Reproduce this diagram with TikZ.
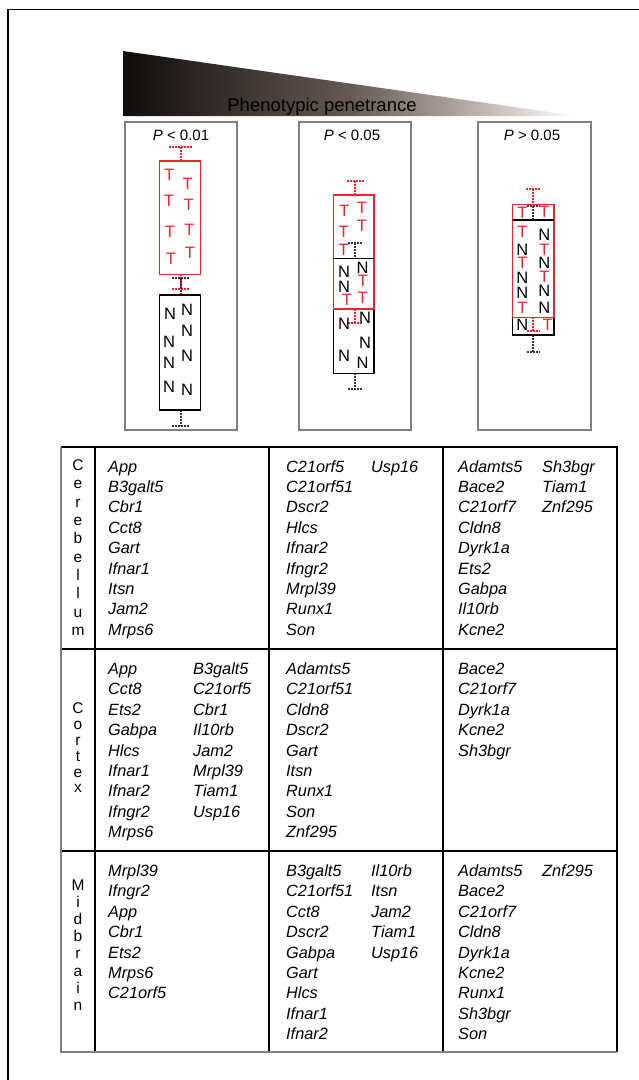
\documentclass[tikz,border=0pt]{standalone}
\usepackage{fontspec}
\setmainfont{Liberation Sans}
\definecolor{tred}{RGB}{232,38,48}
\definecolor{pgray}{RGB}{128,128,128}
\pgfdeclarehorizontalshading{wedgeshade}{100bp}{rgb(0bp)=(0.06,0.05,0.05); rgb(25bp)=(0.06,0.05,0.05); rgb(50bp)=(0.40,0.35,0.33); rgb(62.5bp)=(0.70,0.66,0.64); rgb(75bp)=(1,1,1); rgb(100bp)=(1,1,1)}
\tikzset{
  gene/.style={anchor=base west, inner sep=0pt, font=\fontsize{16.3}{19}\selectfont\itshape},
  lett/.style={inner sep=0pt, font=\fontsize{16.5}{19}\selectfont},
  tl/.style={lett, text=tred},
  nl/.style={lett, text=black},
  plab/.style={anchor=base, inner sep=0pt, font=\fontsize{15}{17}\selectfont},
  vlab/.style={inner sep=0pt, align=center},
  panel/.style={draw=pgray, line width=1.2pt},
  rbox/.style={draw=tred, line width=1.1pt},
  kbox/.style={draw=black, line width=1.2pt},
  rwhisk/.style={draw=tred, line width=2pt, dash pattern=on 1.5pt off 1.5pt},
  kwhisk/.style={draw=black!80, line width=2pt, dash pattern=on 1.5pt off 1.5pt},
  tline/.style={draw=black, line width=1.1pt},
  tgline/.style={draw=pgray, line width=2pt},
}
\newcommand\genecol[4]{%
  \foreach \g [count=\i from 0] in {#4} \node[gene] (#1-\i) at (#2,{#3+20.4*\i}) {\g};}
\begin{document}
\begin{tikzpicture}[x=1pt, y=-1pt]
\useasboundingbox (0,0) rectangle (639,1080);
% outer frame corner
\draw[line width=1.3pt] (8,1080) -- (8,9.7) -- (639,9.7);

% wedge
\shade[shading=wedgeshade] (123,51) -- (577,116) -- (123,116) -- cycle;
\node[anchor=base, inner sep=0pt, font=\fontsize{18.5}{20}\selectfont] (title) at (322,111) {Phenotypic penetrance};

% panels
\draw[panel] (125,122) rectangle (237,430);
\draw[panel] (299,122) rectangle (411,430);
\draw[panel] (478,122) rectangle (591,430);
\node[plab] (p1) at (181,140.5) {\textit{P} < 0.01};
\node[plab] (p2) at (352,140.5) {\textit{P} < 0.05};
\node[plab] (p3) at (532,140.5) {\textit{P} > 0.05};

% ---- panel 1
\draw[rwhisk] (169,147) -- (192,147);
\draw[rwhisk] (180.7,147) -- (180.7,161);
\draw[rwhisk] (180.7,274) -- (180.7,289);
\draw[rwhisk] (172,289) -- (190,289);
\draw[kwhisk] (172,278) -- (190,278);
\draw[kwhisk] (180.7,278) -- (180.7,295);
\draw[kwhisk] (180.7,410) -- (180.7,426);
\draw[kwhisk] (172,426) -- (190,426);
\draw[rbox] (159.3,161) rectangle (200.7,274.3);
\draw[kbox] (159.3,295) rectangle (200.7,410);
\node[tl] (a1) at (169.3,175) {T};
\node[tl] (a2) at (187.7,184.3) {T};
\node[tl] (a3) at (169,201) {T};
\node[tl] (a4) at (188.7,205) {T};
\node[tl] (a5) at (170,232.3) {T};
\node[tl] (a6) at (189.3,230) {T};
\node[tl] (a7) at (171,259.3) {T};
\node[tl] (a8) at (190,252.7) {T};
\node[nl] (b1) at (170,314.3) {N};
\node[nl] (b2) at (187,310) {N};
\node[nl] (b3) at (169,341.7) {N};
\node[nl] (b4) at (187,331) {N};
\node[nl] (b5) at (169,363.3) {N};
\node[nl] (b6) at (187,355.7) {N};
\node[nl] (b7) at (169,386.7) {N};
\node[nl] (b8) at (187,390) {N};

% ---- panel 2
\draw[rwhisk] (347,181) -- (364,181);
\draw[rwhisk] (355,181) -- (355,195);
\draw[kwhisk] (348,243.3) -- (363,243.3);
\draw[kwhisk] (355,243.3) -- (355,258.3);
\draw[rwhisk] (355,309) -- (355,323.3);
\draw[rwhisk] (348,323.3) -- (362,323.3);
\draw[kwhisk] (355,373.3) -- (355,389);
\draw[kwhisk] (348,389) -- (362,389);
\draw[kbox] (333.3,258.3) rectangle (374,373.3);
\draw[rbox] (333.3,195) rectangle (374,309);
\draw[kbox] (333.3,258.3) -- (374,258.3);
\node[tl] (c1) at (344.3,211) {T};
\node[tl] (c2) at (362,207.7) {T};
\node[tl] (c3) at (343.7,231.7) {T};
\node[tl] (c4) at (362,226) {T};
\node[tl] (c5) at (343.7,250) {T};
\node[nl] (c6) at (344,271.7) {N};
\node[nl] (c7) at (362.7,267.7) {N};
\node[nl] (c8) at (344,286.7) {N};
\node[tl] (c9) at (363,281) {T};
\node[tl] (c10) at (347,300) {T};
\node[tl] (c11) at (362.7,298.3) {T};
\node[nl] (c12) at (344,324.3) {N};
\node[nl] (c13) at (365,317.7) {N};
\node[nl] (c14) at (365,343.3) {N};
\node[nl] (c15) at (344,355.7) {N};
\node[nl] (c16) at (362.7,363.3) {N};

% ---- panel 3
\draw[rwhisk] (526,189) -- (541,189);
\draw[rwhisk] (533.3,189) -- (533.3,204.3);
\draw[kwhisk] (527,206) -- (540,206);
\draw[kwhisk] (533.3,206) -- (533.3,220);
\draw[rwhisk] (533.3,317.3) -- (533.3,331);
\draw[rwhisk] (527,331) -- (540,331);
\draw[kwhisk] (533.3,335) -- (533.3,352);
\draw[kwhisk] (527,352) -- (540,352);
\draw[kbox] (512.7,220) rectangle (554,335);
\draw[rbox] (512.7,204.3) rectangle (554,317.3);
\draw[kbox] (512.7,220) -- (554,220);
\node[tl] (d1) at (522.3,213.3) {T};
\node[tl] (d2) at (544.3,212.3) {T};
\node[tl] (d3) at (522.3,231.7) {T};
\node[tl] (d4) at (522.3,263.3) {T};
\node[tl] (d5) at (522.3,307.7) {T};
\node[nl] (d6) at (522.3,250) {N};
\node[nl] (d7) at (522.3,278.3) {N};
\node[nl] (d8) at (522.3,293.3) {N};
\node[nl] (e1) at (544.3,235) {N};
\node[tl] (e2) at (544.3,250) {T};
\node[nl] (e3) at (544.3,263.3) {N};
\node[tl] (e4) at (544.3,276.7) {T};
\node[nl] (e5) at (544.3,291) {N};
\node[nl] (e6) at (544.3,307.7) {N};
\node[nl] (f1) at (522.3,325) {N};
\node[tl] (f2) at (547.7,325) {T};

% ---- table lines
\draw[tline] (61,447) -- (617,447) -- (617,1052);
\foreach \xx in {95,269,443} \draw[tline] (\xx,447) -- (\xx,1052);
\foreach \yy in {649,851} \draw[tline] (61,\yy) -- (617,\yy);
\draw[tgline] (61,447) -- (61,1052) -- (617,1052);

% vertical region labels
\node[vlab, font=\fontsize{15.5}{18.36}\selectfont] (cer) at (78,547.6) {C\\e\\r\\e\\b\\e\\l\\l\\u\\m};
\node[vlab, font=\fontsize{15.5}{15.8}\selectfont] (cor) at (78,748) {C\\o\\r\\t\\e\\x};
\node[vlab, font=\fontsize{15.5}{17.2}\selectfont] (mid) at (78,945) {M\\i\\d\\b\\r\\a\\i\\n};

% gene lists: Cerebellum
\genecol{ca}{108}{472}{App,B3galt5,Cbr1,Cct8,Gart,Ifnar1,Itsn,Jam2,Mrps6}
\genecol{cb}{286}{472}{C21orf5,C21orf51,Dscr2,Hlcs,Ifnar2,Ifngr2,Mrpl39,Runx1,Son}
\genecol{cc}{371}{472}{Usp16}
\genecol{cd}{458}{472}{Adamts5,Bace2,C21orf7,Cldn8,Dyrk1a,Ets2,Gabpa,Il10rb,Kcne2}
\genecol{ce}{542}{472}{Sh3bgr,Tiam1,Znf295}
% Cortex
\genecol{oa}{108}{674.5}{App,Cct8,Ets2,Gabpa,Hlcs,Ifnar1,Ifnar2,Ifngr2,Mrps6}
\genecol{ob}{193}{674.5}{B3galt5,C21orf5,Cbr1,Il10rb,Jam2,Mrpl39,Tiam1,Usp16}
\genecol{oc}{286}{674.5}{Adamts5,C21orf51,Cldn8,Dscr2,Gart,Itsn,Runx1,Son,Znf295}
\genecol{od}{458}{674.5}{Bace2,C21orf7,Dyrk1a,Kcne2,Sh3bgr}
% Midbrain
\genecol{ma}{108}{876.5}{Mrpl39,Ifngr2,App,Cbr1,Ets2,Mrps6,C21orf5}
\genecol{mb}{286}{876.5}{B3galt5,C21orf51,Cct8,Dscr2,Gabpa,Gart,Hlcs,Ifnar1,Ifnar2}
\genecol{mc}{371}{876.5}{Il10rb,Itsn,Jam2,Tiam1,Usp16}
\genecol{md}{458}{876.5}{Adamts5,Bace2,C21orf7,Cldn8,Dyrk1a,Kcne2,Runx1,Sh3bgr,Son}
\genecol{me}{542}{876.5}{Znf295}
\end{tikzpicture}
\end{document}
